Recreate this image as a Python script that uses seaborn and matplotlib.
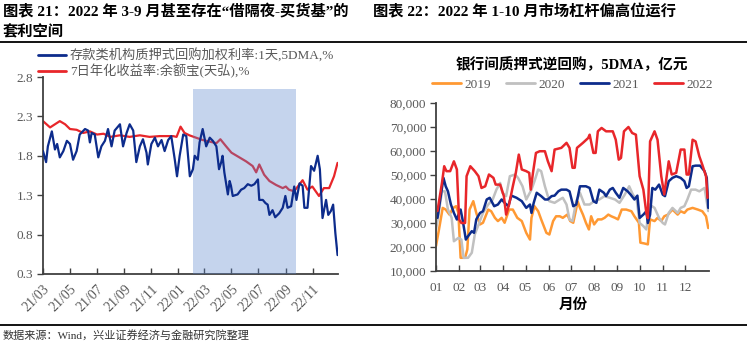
import pandas as pd
import matplotlib
matplotlib.use("Agg")
import matplotlib.pyplot as plt
from matplotlib.lines import Line2D
from matplotlib.ticker import FuncFormatter, FixedLocator
import seaborn as sns

# ---------------------------------------------------------------- data
# 存款类机构质押式回购加权利率:1天,5DMA,%
REPO_DATES = [
    "2021-03-01", "2021-03-08", "2021-03-12", "2021-03-21", "2021-03-28", "2021-04-02",
    "2021-04-08", "2021-04-16", "2021-04-24", "2021-05-01", "2021-05-08", "2021-05-16",
    "2021-05-23", "2021-06-04", "2021-06-11", "2021-06-15", "2021-06-19", "2021-06-26",
    "2021-07-04", "2021-07-11", "2021-07-19", "2021-07-26", "2021-08-03", "2021-08-10",
    "2021-08-22", "2021-08-29", "2021-09-06", "2021-09-13", "2021-09-21", "2021-09-28",
    "2021-10-06", "2021-10-13", "2021-10-21", "2021-10-24", "2021-11-01", "2021-11-09",
    "2021-11-16", "2021-11-24", "2021-12-01", "2021-12-09", "2021-12-16", "2021-12-24",
    "2021-12-29", "2022-01-04", "2022-01-12", "2022-01-19", "2022-01-27", "2022-02-03",
    "2022-02-07", "2022-02-14", "2022-02-18", "2022-02-25", "2022-03-05", "2022-03-13",
    "2022-03-20", "2022-03-28", "2022-04-03", "2022-04-08", "2022-04-11", "2022-04-15",
    "2022-04-23", "2022-04-27", "2022-04-30", "2022-05-04", "2022-05-15", "2022-05-23",
    "2022-05-30", "2022-06-07", "2022-06-15", "2022-06-22", "2022-06-30", "2022-07-03",
    "2022-07-11", "2022-07-17", "2022-07-22", "2022-07-26", "2022-08-02", "2022-08-08",
    "2022-08-17", "2022-08-25", "2022-08-31", "2022-09-05", "2022-09-13", "2022-09-20",
    "2022-09-25", "2022-10-02", "2022-10-09", "2022-10-13", "2022-10-20", "2022-10-28",
    "2022-11-04", "2022-11-12", "2022-11-17", "2022-11-23", "2022-12-01", "2022-12-06",
    "2022-12-12", "2022-12-17", "2022-12-22", "2022-12-27",
]
REPO_RATE = [
    1.86, 1.72, 1.92, 2.11, 1.88, 1.95, 1.78, 1.86, 1.99, 1.95, 1.75, 1.86,
    2.07, 2.14, 2.12, 1.97, 2.09, 2.07, 1.78, 1.92, 1.99, 2.14, 1.92, 2.12,
    2.20, 1.92, 2.09, 2.20, 2.12, 1.72, 1.92, 2.01, 1.84, 1.69, 1.95, 2.03,
    1.92, 2.00, 1.86, 2.00, 2.05, 1.75, 1.54, 1.80, 2.07, 2.05, 1.54, 1.63,
    1.80, 1.75, 1.97, 2.14, 1.92, 2.03, 1.99, 1.92, 1.63, 1.72, 1.80, 1.59,
    1.31, 1.48, 1.42, 1.29, 1.31, 1.37, 1.39, 1.44, 1.42, 1.44, 1.50, 1.24,
    1.24, 1.20, 1.18, 1.05, 1.11, 1.02, 1.07, 1.14, 1.29, 1.14, 1.16, 1.41,
    1.24, 1.45, 1.42, 1.14, 1.14, 1.67, 1.61, 1.80, 1.63, 1.01, 1.24, 1.05,
    1.10, 1.18, 0.82, 0.54,
]

# 7日年化收益率:余额宝(天弘),%
YEB_DATES = [
    "2021-03-01", "2021-03-17", "2021-03-28", "2021-04-08", "2021-04-20", "2021-05-01",
    "2021-05-16", "2021-05-31", "2021-06-15", "2021-07-01", "2021-07-16", "2021-07-31",
    "2021-08-22", "2021-09-13", "2021-10-06", "2021-10-28", "2021-11-20", "2021-12-20",
    "2021-12-28", "2022-01-06", "2022-01-15", "2022-01-26", "2022-02-10", "2022-02-25",
    "2022-03-13", "2022-03-28", "2022-04-06", "2022-04-19", "2022-05-01", "2022-05-19",
    "2022-06-03", "2022-06-18", "2022-06-26", "2022-07-03", "2022-07-14", "2022-07-26",
    "2022-08-10", "2022-08-25", "2022-09-01", "2022-09-08", "2022-09-20", "2022-10-02",
    "2022-10-09", "2022-10-20", "2022-10-31", "2022-11-15", "2022-11-26", "2022-12-08",
    "2022-12-19", "2022-12-27",
]
YEB_YIELD = [
    2.24, 2.16, 2.20, 2.24, 2.20, 2.14, 2.13, 2.09, 2.11, 2.07, 2.08, 2.04,
    2.06, 2.04, 2.06, 2.04, 2.05, 2.05, 2.04, 2.17, 2.09, 2.06, 2.03, 2.00,
    1.98, 1.96, 2.01, 1.92, 1.84, 1.78, 1.73, 1.67, 1.59, 1.69, 1.56, 1.48,
    1.43, 1.39, 1.41, 1.37, 1.35, 1.44, 1.49, 1.37, 1.41, 1.29, 1.39, 1.39,
    1.54, 1.71,
]

# 银行间质押式逆回购, 5DMA, 亿元 (x = day of year)
DAYS_2019 = [0, 4, 9, 13, 18, 23, 27, 30, 33, 39, 42, 45, 50, 54, 59, 63, 70, 74, 79, 83,
             88, 92, 98, 103, 109, 115, 121, 126, 128, 132, 137, 141, 148, 152, 157, 161,
             166, 170, 176, 180, 184, 190, 193, 197, 201, 205, 208, 212, 217, 222, 226,
             231, 235, 240, 244, 249, 255, 262, 266, 272, 274, 279, 284, 287, 293, 297,
             302, 306, 311, 317, 324, 328, 333, 337, 344, 351, 357, 362, 365]
REPO_2019 = [20400, 27300, 36300, 35600, 33500, 36300, 37000, 34200, 15500, 15500, 19000,
             35600, 39100, 34200, 29400, 30100, 35600, 34900, 32150, 30800, 32150, 30100,
             35600, 35600, 32150, 30800, 25900, 23100, 32150, 37000, 34900, 31500, 25900,
             25200, 30800, 32800, 32800, 32150, 33500, 30800, 30100, 38900, 36300, 33500,
             30100, 27300, 32800, 29400, 31500, 31500, 32150, 33500, 32800, 32150, 31500,
             35600, 35600, 34900, 32800, 30100, 21800, 21500, 21100, 31500, 30800, 32150,
             30800, 32800, 33500, 35600, 33500, 34900, 34200, 35600, 36300, 35600, 34900,
             32800, 27900]

DAYS_2020 = [0, 3, 8, 12, 16, 21, 24, 30, 34, 37, 43, 48, 52, 58, 63, 70, 76, 81, 86, 89,
             94, 99, 106, 110, 116, 121, 128, 132, 137, 141, 146, 152, 159, 166, 170, 175,
             179, 183, 188, 193, 199, 206, 212, 219, 226, 233, 240, 246, 253, 259, 264,
             269, 273, 278, 282, 286, 293, 299, 304, 307, 312, 317, 324, 328, 333, 337,
             342, 348, 353, 360, 365]
REPO_2020 = [27300, 32850, 43200, 43200, 35600, 32150, 22400, 23800, 23100, 15500, 15500,
             17600, 25200, 30100, 34200, 37700, 39800, 43900, 46700, 42600, 41200, 49500,
             50200, 48800, 45300, 39800, 43900, 47400, 52300, 51600, 45300, 39100, 38400,
             39800, 40500, 37700, 31450, 30800, 39100, 42600, 37700, 37700, 39100, 39800,
             41200, 40500, 39800, 38400, 41800, 45300, 41800, 39800, 30000, 28700, 27300,
             37700, 36300, 32150, 30000, 29400, 34200, 36300, 34200, 36300, 37000, 39800,
             43900, 43900, 43200, 44600, 35000]

DAYS_2021 = [2, 5, 10, 13, 16, 20, 24, 28, 33, 36, 40, 43, 48, 51, 54, 59, 63, 68, 72, 78,
             83, 88, 92, 97, 101, 108, 115, 121, 126, 128, 131, 135, 141, 146, 150, 155,
             159, 164, 168, 175, 179, 184, 188, 193, 201, 206, 211, 215, 219, 225, 228,
             233, 237, 241, 246, 251, 257, 261, 266, 270, 273, 278, 282, 284, 287, 290,
             294, 299, 304, 307, 312, 317, 322, 328, 333, 336, 339, 344, 348, 354, 360,
             363, 365]
REPO_2021 = [32150, 38400, 48800, 45300, 43200, 37700, 34200, 31450, 35600, 30800, 23100,
             24500, 26600, 25900, 31500, 34200, 34900, 39800, 40500, 37000, 37700, 39800,
             38400, 37000, 41400, 40500, 39100, 36300, 37700, 34200, 38400, 42600, 41200,
             39800, 39800, 41200, 41400, 43200, 43900, 43900, 43200, 37000, 37700, 45300,
             45300, 44600, 39100, 38400, 43900, 42600, 41200, 43900, 44600, 42600, 40500,
             44600, 43200, 41800, 39800, 41400, 32100, 33500, 34900, 30000, 33500, 44600,
             43900, 46000, 41800, 41200, 47400, 48800, 49500, 48800, 47400, 44600, 45300,
             53650, 53900, 53900, 51600, 48800, 36300]

DAYS_2022 = [2, 8, 11, 14, 19, 24, 28, 31, 34, 39, 41, 46, 52, 57, 61, 66, 71, 77, 80, 86,
             91, 94, 98, 103, 107, 111, 115, 121, 125, 127, 130, 134, 139, 146, 150, 155,
             159, 168, 175, 179, 183, 186, 189, 197, 204, 206, 211, 214, 217, 222, 228,
             237, 241, 245, 248, 252, 258, 263, 268, 273, 278, 282, 284, 287, 293, 297,
             302, 306, 312, 316, 322, 328, 333, 336, 339, 344, 348, 353, 357, 362, 364]
REPO_2022 = [35000, 46700, 53650, 51600, 51600, 55700, 52300, 31450, 30000, 30000, 49500,
             53650, 51600, 49500, 44600, 45300, 50200, 48800, 46000, 46000, 41200, 33500,
             37700, 45300, 50900, 58500, 52300, 51600, 50900, 43900, 50900, 59200, 59900,
             59900, 55700, 51600, 60600, 61300, 63400, 61300, 53000, 53000, 61300, 63400,
             65400, 66800, 59200, 59200, 68200, 69600, 68200, 68200, 64700, 56400, 57100,
             68200, 70000, 67500, 66800, 49500, 43900, 34200, 32000, 64000, 68200, 64700,
             49500, 41900, 55700, 50200, 50900, 60600, 60600, 50200, 50200, 64700, 64000,
             57800, 54300, 49500, 40500]

YEARS = ["2019", "2020", "2021", "2022"]
MONTH_LABELS = ["01", "02", "03", "04", "05", "06", "07", "08", "09", "10", "11", "12"]
MONTH_START_DAYS = [0, 31, 59, 90, 120, 151, 181, 212, 243, 273, 304, 334]

SHADE_START, SHADE_END, SHADE_TOP = "2022-02-03", "2022-09-23", 2.65

# ---------------------------------------------------------------- style
sns.set_theme(style="white")
MIXED = ["Liberation Serif", "Noto Sans CJK SC"]
plt.rcParams["font.family"] = MIXED
plt.rcParams["axes.unicode_minus"] = False

NAVY = "#0d2c8c"
RED = "#e8262a"
ORANGE = "#ff9933"
GREY = "#c0c0c0"
SHADE = "#5984cc"
TICK_GREY = "#595959"
SPINE = "#404040"

W, H = 747, 342
fig = plt.figure(figsize=(W / 100, H / 100), dpi=100)


def box(x0, y0, x1, y1):
    return [x0 / W, 1 - y1 / H, (x1 - x0) / W, (y1 - y0) / H]


def fx(px):
    return px / W


def fy(py):
    return 1 - py / H


def style_axes(ax, xsize, ysize):
    sns.despine(ax=ax)
    for side in ("left", "bottom"):
        ax.spines[side].set_color(SPINE)
        ax.spines[side].set_linewidth(1.3)
    ax.tick_params(axis="y", direction="out", length=4, width=1.0, color=SPINE,
                   labelsize=ysize, labelcolor=TICK_GREY, pad=3, left=True)
    ax.tick_params(axis="x", direction="in", length=4, width=1.0, color=SPINE,
                   labelsize=xsize, labelcolor=TICK_GREY, bottom=True)
    ax.set_xlabel("")
    ax.set_ylabel("")
    ax.grid(False)


# ---------------------------------------------------------------- left chart
ax1 = fig.add_axes(box(43, 77, 338, 274))
repo_df = pd.DataFrame({"date": pd.to_datetime(REPO_DATES), "value": REPO_RATE})
yeb_df = pd.DataFrame({"date": pd.to_datetime(YEB_DATES), "value": YEB_YIELD})

sns.lineplot(data=yeb_df, x="date", y="value", color=RED, linewidth=1.6, ax=ax1, zorder=2)
ax1.axvspan(pd.Timestamp(SHADE_START), pd.Timestamp(SHADE_END), ymin=0,
            ymax=(SHADE_TOP - 0.3) / 2.5, color=SHADE, alpha=0.35, lw=0, zorder=3)
sns.lineplot(data=repo_df, x="date", y="value", color=NAVY, linewidth=1.6, ax=ax1, zorder=4)

ax1.set_xlim(pd.Timestamp("2021-03-01"), pd.Timestamp("2022-12-28"))
ax1.set_ylim(0.3, 2.8)
ax1.set_yticks([0.3, 0.8, 1.3, 1.8, 2.3, 2.8])
ax1.yaxis.set_major_formatter(FuncFormatter(lambda v, p: f"{v:.1f}"))
xt = pd.date_range("2021-03-01", "2022-11-01", freq="2MS")
ax1.set_xticks(xt)
ax1.set_xticklabels([d.strftime("%y/%m") for d in xt], rotation=45, ha="right",
                    rotation_mode="anchor")
style_axes(ax1, xsize=10, ysize=9.5)
ax1.tick_params(axis="x", pad=6)

leg1 = fig.legend(
    handles=[Line2D([], [], color=NAVY, lw=2), Line2D([], [], color=RED, lw=2)],
    labels=["存款类机构质押式回购加权利率:1天,5DMA,%", "7日年化收益率:余额宝(天弘),%"],
    loc="upper left", bbox_to_anchor=(fx(38), fy(49)), frameon=False,
    prop={"family": MIXED, "size": 9.5}, handlelength=2.1, handletextpad=0.3,
    labelspacing=0.05, borderpad=0, borderaxespad=0,
)
for t in leg1.get_texts():
    t.set_color(TICK_GREY)

# ---------------------------------------------------------------- right chart
ax2 = fig.add_axes(box(436, 103, 709, 271))
frames = []
for yr, days, vals in zip(YEARS, [DAYS_2019, DAYS_2020, DAYS_2021, DAYS_2022],
                          [REPO_2019, REPO_2020, REPO_2021, REPO_2022]):
    frames.append(pd.DataFrame({"day": days, "value": vals, "year": yr}))
rev_df = pd.concat(frames, ignore_index=True)
palette = dict(zip(YEARS, [ORANGE, GREY, NAVY, RED]))
sns.lineplot(data=rev_df, x="day", y="value", hue="year", hue_order=YEARS,
             palette=palette, linewidth=1.8, estimator=None, legend=False, ax=ax2)

ax2.set_xlim(0, 366)
ax2.set_ylim(10000, 80000)
ax2.set_yticks(range(10000, 80001, 10000))
ax2.yaxis.set_major_formatter(FuncFormatter(lambda v, p: f"{int(v):,}"))
ax2.xaxis.set_major_locator(FixedLocator(MONTH_START_DAYS))
ax2.set_xticklabels(MONTH_LABELS)
style_axes(ax2, xsize=9.5, ysize=9.5)
ax2.tick_params(axis="x", pad=8)

leg2 = fig.legend(
    handles=[Line2D([], [], color=palette[y], lw=2) for y in YEARS], labels=YEARS,
    loc="center left", bbox_to_anchor=(fx(432), fy(85)), ncol=4, frameon=False,
    prop={"family": MIXED, "size": 9.5}, handlelength=2.2, handletextpad=0.25,
    columnspacing=1.15, borderpad=0, borderaxespad=0,
)
for t in leg2.get_texts():
    t.set_color(TICK_GREY)

fig.text(fx(572), fy(65), "银行间质押式逆回购，5DMA，亿元", ha="center", va="center",
         fontsize=10.5, fontweight="bold", color="black")
fig.text(fx(573), fy(305), "月份", ha="center", va="center",
         fontsize=10.5, fontweight="bold", color="black")

# ---------------------------------------------------------------- headings & rules
fig.text(fx(3), fy(12), "图表 21：2022 年 3-9 月甚至存在“借隔夜-买货基”的",
         ha="left", va="center", fontsize=11, fontweight="bold", color="black")
fig.text(fx(3), fy(32), "套利空间",
         ha="left", va="center", fontsize=11, fontweight="bold", color="black")
fig.text(fx(373), fy(12), "图表 22：2022 年 1-10 月市场杠杆偏高位运行",
         ha="left", va="center", fontsize=11, fontweight="bold", color="black")
for yy in (42, 325):
    fig.add_artist(Line2D([0, 1], [fy(yy), fy(yy)], transform=fig.transFigure,
                          color="black", lw=1.3))
fig.text(fx(3), fy(335), "数据来源：Wind，兴业证券经济与金融研究院整理",
         ha="left", va="center", fontsize=8, color="#333333")

fig.savefig("out.png", dpi=100)
